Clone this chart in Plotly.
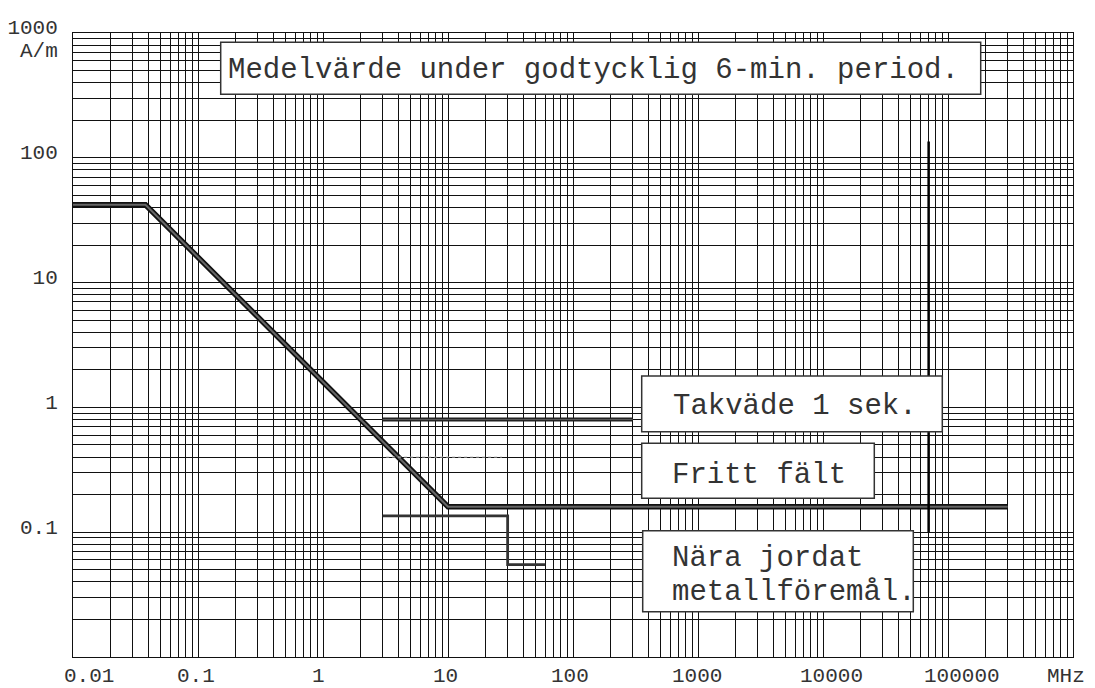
import plotly.graph_objects as go
import math

# ---------------- data ----------------
curve_f = [0.01, 0.038, 10, 300000]          # MHz
curve_h = [42, 42, 0.16, 0.16]               # A/m  (Medelvärde / Fritt fält)
takvarde_f = [3, 300]
takvarde_h = [0.8, 0.8]
nara_f = [3, 30, 30, 60]
nara_h = [0.135, 0.135, 0.055, 0.055]
hidden_f = [3.2, 27]
hidden_h = [0.4, 0.4]
marker_f = [70000, 70000]
marker_h = [0.1, 135]

x_decades = [0.01, 0.1, 1, 10, 100, 1000, 10000, 100000, 1000000]
x_labels = ["0.01", "0.1", "1", "10", "100", "1000", "10000", "100000", "MHz"]
y_decades = [0.1, 1, 10, 100, 1000]
y_labels = ["0.1", "1", "10", "100", "1000"]
y_unit = "A/m"

box_texts = ["Medelvärde under godtycklig 6-min. period.",
             "Takväde 1 sek.",
             "Fritt fält",
             "Nära jordat",
             "metallföremål."]

# ---------------- layout constants ----------------
W, H = 1095, 688
L, R, T, B = 73, 22, 33, 31
PW, PH = W - L - R, H - T - B
FONT = "Liberation Mono"
TXT = "#333"


def px(xp):
    return (xp - L) / PW


def py(yp):
    return (H - B - yp) / PH


# grid values (every digit in every decade)
x_grid = [m * 10 ** e for e in range(-2, 6) for m in range(1, 10)] + [1e6]
y_grid = [m * 10 ** e for e in range(-2, 3) for m in range(1, 10)] + [1e3]
y_ticktext = []
for v in y_grid:
    lab = ""
    for d, t in zip(y_decades, y_labels):
        if abs(v - d) / d < 1e-9:
            lab = t
    y_ticktext.append(lab)

fig = go.Figure()

# main curve: double line (black outline, gray core)
fig.add_trace(go.Scatter(x=curve_f, y=curve_h, mode="lines",
                         line=dict(color="#111", width=5.5), hoverinfo="skip"))
fig.add_trace(go.Scatter(x=curve_f, y=curve_h, mode="lines",
                         line=dict(color="#666", width=2), hoverinfo="skip"))
fig.add_trace(go.Scatter(x=takvarde_f, y=takvarde_h, mode="lines",
                         line=dict(color="#222", width=4), hoverinfo="skip"))
fig.add_trace(go.Scatter(x=takvarde_f, y=takvarde_h, mode="lines",
                         line=dict(color="#555", width=1.2), hoverinfo="skip"))
fig.add_trace(go.Scatter(x=nara_f, y=nara_h, mode="lines",
                         line=dict(color="#333", width=2.8), hoverinfo="skip"))
fig.add_trace(go.Scatter(x=hidden_f, y=hidden_h, mode="lines",
                         line=dict(color="#bbb", width=1, dash="dot"), hoverinfo="skip"))
fig.add_trace(go.Scatter(x=marker_f, y=marker_h, mode="lines",
                         line=dict(color="#000", width=2.5), hoverinfo="skip"))

# boxes (white, covering grid)
boxes = [(220.7, 980.7, 42.3, 94.3),
         (641.7, 942.3, 376.0, 431.7),
         (641.7, 874.3, 443.3, 498.3),
         (642.7, 913.3, 530.7, 611.7)]
for x0, x1, y0, y1 in boxes:
    fig.add_shape(type="rect", xref="paper", yref="paper",
                  x0=px(x0), x1=px(x1), y0=py(y1), y1=py(y0),
                  line=dict(color="#333", width=1.5), fillcolor="white",
                  layer="above")

text_pos = [(226, 70.0), (671, 406.7), (670, 476.0), (670, 558.3), (670, 592.7)]
for t, (xl, yc) in zip(box_texts, text_pos):
    fig.add_annotation(text=t, xref="paper", yref="paper", x=px(xl), y=py(yc),
                       xanchor="left", yanchor="middle", showarrow=False,
                       font=dict(family=FONT, size=29, color=TXT))

# x tick labels
x_shift = [15.7, -1.6, -4.3, -3, -3, -1, 8.7, 13.7, -7.5]
for v, t, s in zip(x_decades, x_labels, x_shift):
    fig.add_annotation(text=t, xref="x", yref="paper", x=math.log10(v), y=0,
                       xanchor="center", yanchor="middle", yshift=-19, xshift=s,
                       showarrow=False,
                       font=dict(family=FONT, size=21, color=TXT))

# unit label on y
fig.add_annotation(text=y_unit, xref="paper", yref="paper", x=px(60), y=py(51),
                   xanchor="right", yanchor="middle", showarrow=False,
                   font=dict(family=FONT, size=21, color=TXT))

fig.update_layout(
    width=W, height=H,
    margin=dict(l=L, r=R, t=T, b=B, autoexpand=False),
    plot_bgcolor="white", paper_bgcolor="white",
    showlegend=False,
    xaxis=dict(type="log", range=[-2, 6], tickvals=x_grid,
               ticktext=[""] * len(x_grid), showgrid=True,
               gridcolor="#111", gridwidth=1, zeroline=False,
               showline=True, linecolor="#111", linewidth=1, mirror=True,
               ticks="", fixedrange=True, automargin=False),
    yaxis=dict(type="log", range=[-2, 3], tickvals=y_grid,
               ticktext=y_ticktext, showgrid=True,
               gridcolor="#111", gridwidth=1, zeroline=False,
               showline=True, linecolor="#111", linewidth=1, mirror=True,
               ticks="", ticklabelshift=-6, ticklabelstandoff=10,
               tickfont=dict(family=FONT, size=21, color=TXT),
               fixedrange=True, automargin=False),
)

fig.write_html("out.html", config={"displayModeBar": False},
               post_script="document.body.style.margin='0px';")
